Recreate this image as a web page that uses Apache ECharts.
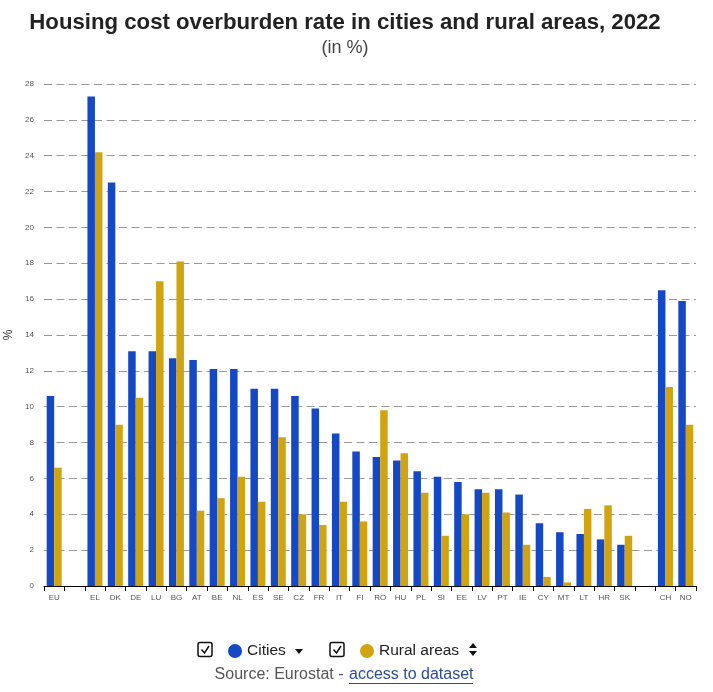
<!DOCTYPE html>
<html>
<head>
<meta charset="utf-8">
<script src="https://cdn.jsdelivr.net/npm/echarts@6/dist/echarts.min.js"></script>
<style>
html,body{margin:0;padding:0;background:#fff;}
#chart{width:713px;height:692px;}
</style>
</head>
<body>
<div id="chart"></div>
<script>
const categories = ['EU',' ','EL','DK','DE','LU','BG','AT','BE','NL','ES','SE','CZ','FR','IT','FI','RO','HU','PL','SI','EE','LV','PT','IE','CY','MT','LT','HR','SK','  ','CH','NO'];
const cities = [10.6,null,27.3,22.5,13.1,13.1,12.7,12.6,12.1,12.1,11.0,11.0,10.6,9.9,8.5,7.5,7.2,7.0,6.4,6.1,5.8,5.4,5.4,5.1,3.5,3.0,2.9,2.6,2.3,null,16.5,15.9];
const rural = [6.6,null,24.2,9.0,10.5,17.0,18.1,4.2,4.9,6.1,4.7,8.3,4.0,3.4,4.7,3.6,9.8,7.4,5.2,2.8,4.0,5.2,4.1,2.3,0.5,0.2,4.3,4.5,2.8,null,11.1,9.0];
const seriesNames = ['Cities','Rural areas'];
const titleText = 'Housing cost overburden rate in cities and rural areas, 2022';
const subtitleText = '(in %)';

const FONT = '"Liberation Sans", Arial, sans-serif';
const chart = echarts.init(document.getElementById('chart'), null, {renderer:'canvas'});
const option = {
  backgroundColor:'#fff',
  animation:false,
  textStyle:{fontFamily:FONT},
  title:[
    {text:titleText,left:345,textAlign:'center',top:12,padding:0,
     textStyle:{fontFamily:FONT,fontSize:22.2,fontWeight:'bold',color:'#222'}},
    {text:subtitleText,left:345,textAlign:'center',top:39,padding:0,
     textStyle:{fontFamily:FONT,fontSize:18,fontWeight:'normal',color:'#444'}}
  ],
  legend:[
    {data:[seriesNames[0]],left:223,top:638,icon:'circle',itemWidth:14,itemHeight:14,
     textStyle:{fontFamily:FONT,fontSize:15.5,color:'#222'},selectedMode:false},
    {data:[seriesNames[1]],left:355,top:638,icon:'circle',itemWidth:14,itemHeight:14,
     textStyle:{fontFamily:FONT,fontSize:15.5,color:'#222'},selectedMode:false}
  ],
  grid:{left:44,right:17,top:84,bottom:106,containLabel:false,outerBoundsMode:'none'},
  xAxis:{
    type:'category',
    data:categories,
    axisLine:{lineStyle:{color:'#000',width:1}},
    axisTick:{show:true,interval:0,length:5,lineStyle:{color:'#000'}},
    axisLabel:{interval:0,fontSize:8,color:'#555',margin:8,fontFamily:FONT}
  },
  yAxis:{
    type:'value',
    min:0,max:28,interval:2,
    name:'%',
    nameLocation:'middle',
    nameGap:27,
    nameRotate:90,
    nameTextStyle:{fontSize:12,color:'#333',fontFamily:FONT},
    axisLine:{show:false},
    axisTick:{show:false},
    axisLabel:{fontSize:8,color:'#555',margin:10,fontFamily:FONT},
    splitLine:{lineStyle:{color:'#999',type:[8,4.5],width:1}}
  },
  series:[
    {name:seriesNames[0],type:'bar',data:cities,barWidth:7.5,barGap:'0%',itemStyle:{color:'#1448c4'}},
    {name:seriesNames[1],type:'bar',data:rural,barWidth:7.5,barGap:'0%',itemStyle:{color:'#d0a411'}}
  ],
  graphic:[
    {type:'rect',shape:{x:198,y:642.5,width:14,height:14,r:2},style:{fill:'#fff',stroke:'#111',lineWidth:1.5}},
    {type:'polyline',shape:{points:[[201.5,649.5],[204.5,653],[209,646]]},style:{stroke:'#111',lineWidth:1.5,fill:null}},
    {type:'polygon',shape:{points:[[295,649],[303,649],[299,654]]},style:{fill:'#111'}},
    {type:'rect',shape:{x:330,y:642.5,width:14,height:14,r:2},style:{fill:'#fff',stroke:'#111',lineWidth:1.5}},
    {type:'polyline',shape:{points:[[333.5,649.5],[336.5,653],[341,646]]},style:{stroke:'#111',lineWidth:1.5,fill:null}},
    {type:'polygon',shape:{points:[[469,648],[477,648],[473,643]]},style:{fill:'#111'}},
    {type:'polygon',shape:{points:[[469,651],[477,651],[473,656]]},style:{fill:'#111'}},
    {type:'text',style:{x:348,y:675,text:'Source: Eurostat - ',textAlign:'right',textVerticalAlign:'middle',font:'16px "Liberation Sans", Arial, sans-serif',fill:'#555'}},
    {type:'text',style:{x:349,y:675,text:'access to dataset',textAlign:'left',textVerticalAlign:'middle',font:'16px "Liberation Sans", Arial, sans-serif',fill:'#2a4c9a'}},
    {type:'line',shape:{x1:349,y1:683.5,x2:473,y2:683.5},style:{stroke:'#2a4c9a',lineWidth:1}}
  ]
};
chart.setOption(option);
</script>
</body>
</html>
